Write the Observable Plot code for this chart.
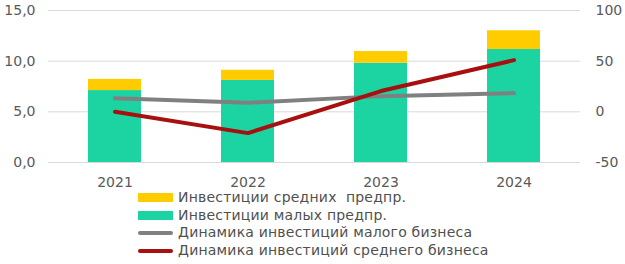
<!DOCTYPE html>
<html><head><meta charset="utf-8">
<script src="https://cdn.jsdelivr.net/npm/d3@7"></script>
<script src="https://cdn.jsdelivr.net/npm/@observablehq/plot@0.6"></script>
<style>
body{margin:0;background:#fff;font-family:"DejaVu Sans",Verdana,sans-serif;}
#legend{margin-left:138px;margin-top:-6px;font-size:14px;letter-spacing:0.2px;color:#505050;line-height:17.7px;}
.row{display:flex;align-items:center;white-space:pre;}
.sw{width:35px;margin-right:5px;flex:none;}
</style></head><body>
<div id="chart"></div>
<div id="legend"></div>
<script>
const years = ["2021","2022","2023","2024"];
const small = [7.1, 8.1, 9.8, 11.15];
const medium = [1.1, 1.0, 1.15, 1.85];
const dynSmall = [13.5, 9, 15.5, 18.5];
const dynMedium = [0, -21, 20.5, 51];
const leftTicks = [0, 5, 10, 15];
const rightTicks = [-50, 0, 50, 100];
const colors = {medium:"#FFCC00", small:"#1CD4A2", dynSmall:"#808080", dynMedium:"#A80F0F"};
const labels = {medium:"Инвестиции средних  предпр.", small:"Инвестиции малых предпр.", dynSmall:"Динамика инвестиций малого бизнеса", dynMedium:"Динамика инвестиций среднего бизнеса"};

// right axis (-50..100) mapped onto left domain (0..15)
const toLeft = v => (v + 50) / 150 * 15;
const toRight = v => v * 150 / 15 - 50;

const bars = [];
years.forEach((y,i)=>{
  bars.push({year:y, s:"small", v:small[i]});
  bars.push({year:y, s:"medium", v:medium[i]});
});
const lineS = years.map((y,i)=>({year:y, v:toLeft(dynSmall[i])}));
const lineM = years.map((y,i)=>({year:y, v:toLeft(dynMedium[i])}));

const fmt = d => d.toFixed(1).replace(".", ",");

const plot = Plot.plot({
  width:625, height:195,
  marginLeft:48, marginRight:45, marginTop:10, marginBottom:33,
  style:{fontFamily:"DejaVu Sans, Verdana, sans-serif", fontSize:"13px", color:"#595959"},
  x:{domain:years, paddingInner:0.6, paddingOuter:0.3, label:null},
  y:{domain:[0,15], label:null},
  marks:[
    Plot.gridY(leftTicks, {stroke:"#d9d9d9", strokeOpacity:1}),
    Plot.barY(bars, Plot.stackY({x:"year", y:"v", fill:d=>colors[d.s], order:["small","medium"]})),
    Plot.line(lineS, {x:"year", y:"v", stroke:colors.dynSmall, strokeWidth:4}),
    Plot.line(lineM, {x:"year", y:"v", stroke:colors.dynMedium, strokeWidth:4}),
    Plot.axisY(leftTicks, {anchor:"left", tickSize:0, tickPadding:13, tickFormat:fmt, label:null, fontSize:14}),
    Plot.axisY(rightTicks.map(toLeft), {anchor:"right", tickSize:0, tickPadding:15, tickFormat:d=>String(Math.round(toRight(d))), label:null, fontSize:14}),
    Plot.axisX({tickSize:0, tickPadding:15, label:null, fontSize:14})
  ]
});
document.getElementById("chart").appendChild(plot);

const leg = document.getElementById("legend");
[["medium",9],["small",9],["dynSmall",4],["dynMedium",4]].forEach(([k,h])=>{
  const r = document.createElement("div"); r.className="row";
  const s = document.createElement("span"); s.className="sw";
  s.style.height=h+"px"; s.style.background=colors[k];
  if(h<9) s.style.borderRadius="2px";
  const t = document.createElement("span"); t.textContent=labels[k];
  r.appendChild(s); r.appendChild(t); leg.appendChild(r);
});
</script>
</body></html>
